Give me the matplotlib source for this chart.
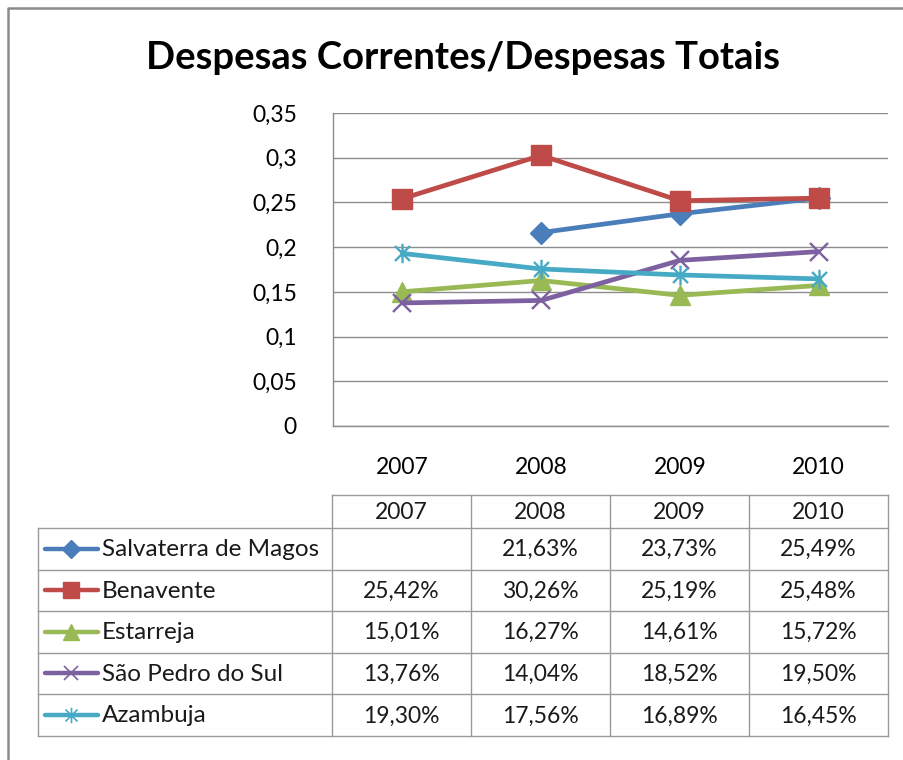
import numpy as np
import matplotlib
matplotlib.use("Agg")
import matplotlib.pyplot as plt
from matplotlib.path import Path

plt.rcParams['font.family'] = ['Lato', 'DejaVu Sans']

years = ["2007", "2008", "2009", "2010"]
series_names = ["Salvaterra de Magos", "Benavente", "Estarreja", "São Pedro do Sul", "Azambuja"]
salvaterra = [np.nan, 0.2163, 0.2373, 0.2549]
benavente = [0.2542, 0.3026, 0.2519, 0.2548]
estarreja = [0.1501, 0.1627, 0.1461, 0.1572]
sao_pedro = [0.1376, 0.1404, 0.1852, 0.1950]
azambuja = [0.1930, 0.1756, 0.1689, 0.1645]
y_ticks = [0, 0.05, 0.1, 0.15, 0.2, 0.25, 0.3, 0.35]
y_tick_labels = ["0", "0,05", "0,1", "0,15", "0,2", "0,25", "0,3", "0,35"]
title = "Despesas Correntes/Despesas Totais"

all_series = [salvaterra, benavente, estarreja, sao_pedro, azambuja]
colors = ["#4A7EBB", "#BE4B48", "#98B954", "#7D60A0", "#46AAC5"]

star = Path([(-1, -1), (1, 1), (-1, 1), (1, -1), (0, -1.3), (0, 1.3)],
            [Path.MOVETO, Path.LINETO, Path.MOVETO, Path.LINETO, Path.MOVETO, Path.LINETO])
markers = ["D", "s", "^", "x", star]
msizes = [11, 14, 14, 13, 14]

W, H = 904, 760
fig = plt.figure(figsize=(W / 100, H / 100), dpi=100)
fig.patch.set_facecolor("white")

def px(x0, y0, x1, y1):
    return [x0 / W, 1 - y1 / H, (x1 - x0) / W, (y1 - y0) / H]

def is_thin(m):
    return m == "x" or m is star

# background axes in pixel coordinates
bg = fig.add_axes([0, 0, 1, 1])
bg.set_xlim(0, W)
bg.set_ylim(H, 0)
bg.axis("off")
bg.plot([8, 8, 904], [760, 8, 8], color="#8A8A8A", lw=1.8, clip_on=False)

bg.text(463, 58, title, ha="center", va="center", fontsize=27.5, fontweight="bold", color="black")

# main plot
ax = fig.add_axes(px(333, 113, 888, 426))
x = np.arange(1, len(years) + 1)
for s, c, m, ms in zip(all_series, colors, markers, msizes):
    ax.plot(x, s, color=c, lw=3.4, marker=m, markersize=ms, markeredgecolor=c,
            markerfacecolor=c, markeredgewidth=1.7 if is_thin(m) else 1,
            solid_joinstyle="round", solid_capstyle="round", clip_on=False)
ax.set_xlim(0.5, len(years) + 0.5)
ax.set_ylim(0, 0.35)
ax.set_yticks(y_ticks)
ax.set_yticklabels(y_tick_labels)
ax.set_xticks(x)
ax.set_xticklabels(years)
ax.yaxis.grid(True, color="#8C8C8C", lw=1)
ax.set_axisbelow(True)
for sp in ["top", "right"]:
    ax.spines[sp].set_visible(False)
for sp in ["left", "bottom"]:
    ax.spines[sp].set_color("#8C8C8C")
    ax.spines[sp].set_linewidth(1)
ax.tick_params(axis="both", length=0, labelsize=16.5, colors="black")
ax.tick_params(axis="y", pad=26)
ax.tick_params(axis="x", pad=22)

# data table
col_x = [38, 332, 471, 610, 749, 888]
row_y = [495, 528, 569.5, 611, 652.5, 694, 736]
gc = "#9A9A9A"
bg.plot([col_x[1], col_x[-1]], [row_y[0], row_y[0]], color=gc, lw=1)
for cx in col_x[1:]:
    bg.plot([cx, cx], [row_y[0], row_y[-1]], color=gc, lw=1)
bg.plot([col_x[0], col_x[0]], [row_y[1], row_y[-1]], color=gc, lw=1)
for ry in row_y[1:]:
    bg.plot([col_x[0], col_x[-1]], [ry, ry], color=gc, lw=1)
for j, yr in enumerate(years):
    bg.text((col_x[j + 1] + col_x[j + 2]) / 2, (row_y[0] + row_y[1]) / 2 + 1, yr,
            ha="center", va="center", fontsize=16.5, color="#1A1A1A")
for i, (name, s, c, m, ms) in enumerate(zip(series_names, all_series, colors, markers, msizes)):
    yc = (row_y[i + 1] + row_y[i + 2]) / 2
    bg.plot([45, 98], [yc, yc], color=c, lw=3.2, solid_capstyle="round")
    bg.plot([71.5], [yc], marker=m, markersize=ms * 0.8, color=c, markeredgecolor=c,
            markeredgewidth=1.2 if is_thin(m) else 1)
    bg.text(102, yc + 1, name, ha="left", va="center", fontsize=17.5, color="#1A1A1A")
    for j, v in enumerate(s):
        if np.isnan(v):
            continue
        lbl = f"{v * 100:.2f}%".replace(".", ",")
        bg.text((col_x[j + 1] + col_x[j + 2]) / 2, yc + 1, lbl, ha="center", va="center",
                fontsize=16.5, color="#1A1A1A")

fig.savefig("out.png", dpi=100, facecolor="white")
